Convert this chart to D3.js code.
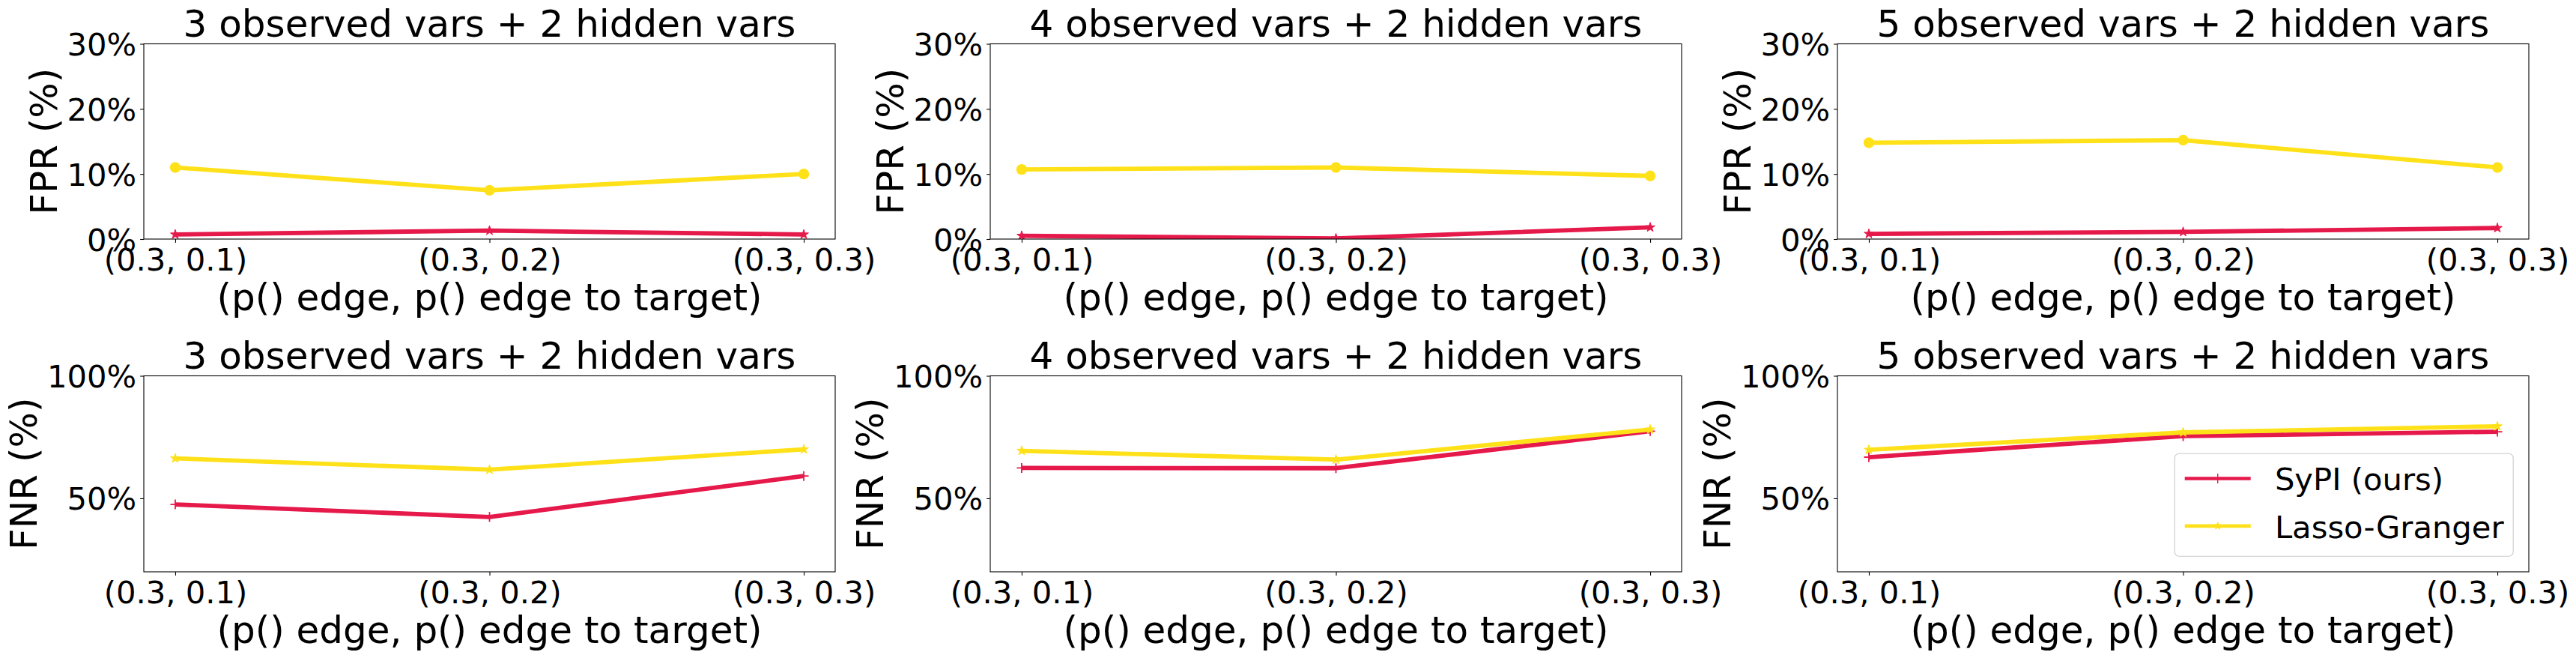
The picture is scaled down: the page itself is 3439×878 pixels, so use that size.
<!DOCTYPE html>
<html><head><meta charset="utf-8">
<script src="https://cdn.jsdelivr.net/npm/d3@7"></script>
<style>
html,body{margin:0;padding:0;background:#fff;}
svg text{font-family:"DejaVu Sans",sans-serif;fill:#000;}
</style></head><body>
<svg id="chart" width="3439" height="878"></svg>
<script>
// ---- data ----
const categories = ["(0.3, 0.1)", "(0.3, 0.2)", "(0.3, 0.3)"];
const panelTitles = ["3 observed vars + 2 hidden vars", "4 observed vars + 2 hidden vars", "5 observed vars + 2 hidden vars"];
const seriesNames = ["SyPI (ours)", "Lasso-Granger"];
// FPR (%) per panel (3, 4, 5 observed vars)
const fprSyPI  = [[0.7, 1.3, 0.7], [0.5, 0.1, 1.8], [0.8, 1.1, 1.7]];
const fprLasso = [[11.0, 7.5, 10.0], [10.7, 11.0, 9.7], [14.8, 15.2, 11.0]];
// FNR (%) per panel
const fnrSyPI  = [[47.5, 42.4, 59.1], [62.4, 62.3, 77.4], [66.8, 75.4, 77.2]];
const fnrLasso = [[66.3, 61.7, 70.0], [69.4, 65.8, 78.1], [69.8, 76.9, 79.4]];
const fprTicks = [0, 10, 20, 30];
const fnrTicks = [50, 100];
const fprDomain = [0, 30];
const fnrDomain = [20, 100];
const xLabel = "(p() edge, p() edge to target)";
const fprLabel = "FPR (%)";
const fnrLabel = "FNR (%)";

// ---- style / layout ----
const RED = "#e6194b", YELLOW = "#ffe119";
const colLeft = [192, 1322, 2453];
const plotW = 923;
const rowTop = [58.5, 501.5];
const rowBottom = [319, 763];
const TICK_FS = 41.7, LABEL_FS = 50, LEG_FS = 41.7;
const TICK_LEN = 4.9, TICK_PAD = 4.9;

const rows = [
  { ylabel: fprLabel, domain: fprDomain, ticks: fprTicks,
    series: [ {name: seriesNames[0], values: fprSyPI, color: RED, marker: "star"},
              {name: seriesNames[1], values: fprLasso, color: YELLOW, marker: "circle"} ] },
  { ylabel: fnrLabel, domain: fnrDomain, ticks: fnrTicks,
    series: [ {name: seriesNames[0], values: fnrSyPI, color: RED, marker: "plus"},
              {name: seriesNames[1], values: fnrLasso, color: YELLOW, marker: "star"} ] }
];

const svg = d3.select("#chart");
svg.append("rect").attr("width", 3439).attr("height", 878).attr("fill", "#fff");
const defs = svg.append("defs");

function drawMarker(g, type, x, y, color, small) {
  if (type === "circle") {
    g.append("circle").attr("cx", x).attr("cy", y).attr("r", 7.2).attr("fill", color);
  } else if (type === "star") {
    const size = small ? 30 : 50;
    g.append("path").attr("d", d3.symbol(d3.symbolStar, size)())
      .attr("transform", `translate(${x},${y})`)
      .attr("fill", color).attr("stroke", color).attr("stroke-width", 1);
  } else if (type === "plus") {
    const h = 6.5;
    g.append("path").attr("d", `M${x - h},${y}H${x + h}M${x},${y - h}V${y + h}`)
      .attr("stroke", color).attr("stroke-width", small ? 1.4 : 1.8).attr("fill", "none");
  }
}

rows.forEach((row, ri) => {
  const y0 = rowTop[ri], y1 = rowBottom[ri];
  const y = d3.scaleLinear().domain(row.domain).range([y1, y0]);
  for (let ci = 0; ci < 3; ci++) {
    const L = colLeft[ci], R = L + plotW;
    const x = d3.scalePoint().domain(categories).range([L, R]).padding(0.1);
    const g = svg.append("g");
    const clipId = `clip-${ri}-${ci}`;
    defs.append("clipPath").attr("id", clipId).append("rect")
      .attr("x", L).attr("y", y0).attr("width", plotW).attr("height", y1 - y0);

    // y axis
    const ya = g.append("g").attr("transform", `translate(${L},0)`)
      .call(d3.axisLeft(y).tickValues(row.ticks).tickFormat(d => d + "%")
        .tickSize(TICK_LEN).tickPadding(TICK_PAD));
    ya.select(".domain").remove();
    ya.selectAll(".tick line").attr("stroke", "#000").attr("stroke-width", 1.1);
    ya.selectAll(".tick text").attr("font-size", TICK_FS).attr("font-family", "DejaVu Sans").attr("dy", "0.36em").attr("fill", "#000");

    // x axis
    const xa = g.append("g").attr("transform", `translate(0,${y1})`)
      .call(d3.axisBottom(x).tickSize(TICK_LEN).tickPadding(TICK_PAD));
    xa.select(".domain").remove();
    xa.selectAll(".tick line").attr("stroke", "#000").attr("stroke-width", 1.1);
    xa.selectAll(".tick text").attr("font-size", TICK_FS).attr("font-family", "DejaVu Sans")
      .attr("dy", null).attr("y", 42).attr("fill", "#000");

    // data
    const dg = g.append("g").attr("clip-path", `url(#${clipId})`);
    row.series.forEach(s => {
      const vals = s.values[ci];
      const line = d3.line().x((d, i) => x(categories[i])).y(d => y(d));
      dg.append("path").datum(vals).attr("d", line).attr("fill", "none")
        .attr("stroke", s.color).attr("stroke-width", 5.8)
        .attr("stroke-linejoin", "round").attr("stroke-linecap", "butt");
      vals.forEach((v, i) => drawMarker(dg, s.marker, x(categories[i]), y(v), s.color, false));
    });

    // frame
    g.append("rect").attr("x", L).attr("y", y0).attr("width", plotW).attr("height", y1 - y0)
      .attr("fill", "none").attr("stroke", "#000").attr("stroke-width", 1.1);

    // title
    g.append("text").attr("x", L + plotW / 2).attr("y", y0 - 10).attr("text-anchor", "middle")
      .attr("font-size", LABEL_FS).text(panelTitles[ci]);
    // x label
    g.append("text").attr("x", L + plotW / 2).attr("y", y1 + 94.5).attr("text-anchor", "middle")
      .attr("font-size", LABEL_FS).text(xLabel);
    // y label, placed left of tick labels
    let maxW = 0;
    ya.selectAll(".tick text").each(function () { maxW = Math.max(maxW, this.getComputedTextLength()); });
    const bx = L - TICK_LEN - TICK_PAD - maxW - 14;
    g.append("text").attr("transform", `translate(${bx},${(y0 + y1) / 2}) rotate(-90)`)
      .attr("text-anchor", "middle").attr("font-size", LABEL_FS).text(row.ylabel);

    // legend in last panel (lower right)
    if (ri === 1 && ci === 2) {
      const lg = g.append("g");
      const pad = 0.4 * LEG_FS, hl = 2.1 * LEG_FS, htp = 0.8 * LEG_FS;
      const bw = 452, bh = 137;
      const bxr = R - 20.8, byb = y1 - 20.8;
      const bl = bxr - bw, bt = byb - bh;
      lg.append("rect").attr("x", bl).attr("y", bt).attr("width", bw).attr("height", bh)
        .attr("rx", 6).attr("fill", "#fff").attr("fill-opacity", 0.8)
        .attr("stroke", "#cccccc").attr("stroke-width", 1.1);
      const rowsY = [bt + 33.3, bt + 96.7];
      row.series.forEach((s, k) => {
        const cy = rowsY[k];
        const hx0 = bl + 13.5, hx1 = hx0 + 88;
        lg.append("line").attr("x1", hx0).attr("x2", hx1).attr("y1", cy).attr("y2", cy)
          .attr("stroke", s.color).attr("stroke-width", 4.6);
        drawMarker(lg, s.marker, (hx0 + hx1) / 2, cy, s.color, true);
        lg.append("text").attr("x", bl + 133.7).attr("y", cy + 15.7)
          .attr("font-size", LEG_FS).attr("font-family", "DejaVu Sans").text(s.name);
      });
    }
  }
});
</script>
</body></html>
